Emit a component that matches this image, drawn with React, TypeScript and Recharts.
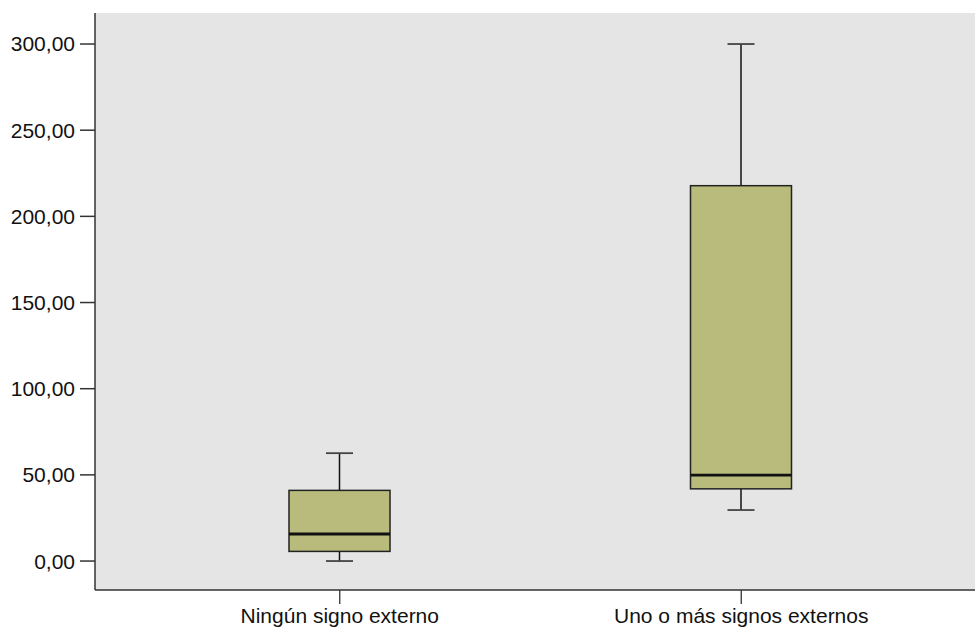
import React from 'react';
import { ComposedChart, Bar, XAxis, YAxis, CartesianGrid } from 'recharts';

const categories = ['Ningún signo externo', 'Uno o más signos externos'];
const minVals = [0, 29.6];
const q1Vals = [5.6, 41.9];
const medianVals = [15.7, 49.9];
const q3Vals = [41.0, 217.8];
const maxVals = [62.6, 300];
const yTicks = [0, 50, 100, 150, 200, 250, 300];

const data = categories.map((name, i) => ({
  name,
  min: minVals[i],
  q1: q1Vals[i],
  median: medianVals[i],
  q3: q3Vals[i],
  max: maxVals[i],
  range: [minVals[i], maxVals[i]],
}));

const FONT = 'Liberation Sans, Arial, Helvetica, sans-serif';

const BoxShape = (props: any) => {
  const { x, y, width, height, payload } = props;
  if (payload == null) return null;
  const { min, q1, median, q3, max } = payload;
  const span = max - min;
  const pix = (v: number) => y + ((max - v) / span) * height;
  const cx = x + width / 2;
  const capHalf = 13.5;
  return (
    <g>
      <line x1={cx} x2={cx} y1={pix(max)} y2={pix(q3)} stroke="#111" strokeWidth={1.5} />
      <line x1={cx} x2={cx} y1={pix(q1)} y2={pix(min)} stroke="#111" strokeWidth={1.5} />
      <line x1={cx - capHalf} x2={cx + capHalf} y1={pix(max)} y2={pix(max)} stroke="#444" strokeWidth={1.8} />
      <line x1={cx - capHalf} x2={cx + capHalf} y1={pix(min)} y2={pix(min)} stroke="#444" strokeWidth={1.8} />
      <rect x={x} y={pix(q3)} width={width} height={pix(q1) - pix(q3)} fill="#b8bb7b" stroke="#222" strokeWidth={1.5} />
      <line x1={x} x2={x + width} y1={pix(median)} y2={pix(median)} stroke="#111" strokeWidth={2.8} />
    </g>
  );
};

const fmt = (v: number) => v.toFixed(2).replace('.', ',');

export default function App() {
  return (
    <div style={{ position: 'absolute', left: 0, top: 0, width: 975, height: 628, background: '#fff' }}>
      <ComposedChart
        width={975}
        height={628}
        data={data}
        margin={{ top: 13, right: 0, bottom: 0, left: 0 }}
      >
        <CartesianGrid fill="#e5e5e5" horizontal={false} vertical={false} />
        <XAxis
          xAxisId="top"
          orientation="top"
          dataKey="name"
          height={0}
          tick={false}
          tickLine={false}
          axisLine={{ stroke: '#333', strokeWidth: 1.5 }}
          padding={{ left: 44, right: 33 }}
        />
        <XAxis
          dataKey="name"
          height={38}
          padding={{ left: 44, right: 33 }}
          tickSize={14}
          tickMargin={4}
          tickLine={{ stroke: '#333', strokeWidth: 1.3 }}
          axisLine={{ stroke: '#333', strokeWidth: 1.5 }}
          tick={{ fill: '#111', fontSize: 21, fontFamily: FONT }}
          interval={0}
        />
        <YAxis
          type="number"
          width={95}
          domain={[-16.8, 318]}
          ticks={yTicks}
          tickFormatter={fmt}
          allowDataOverflow
          tickSize={15}
          tickMargin={5}
          tickLine={{ stroke: '#333', strokeWidth: 1.5 }}
          axisLine={{ stroke: '#333', strokeWidth: 1.5 }}
          tick={{ fill: '#111', fontSize: 21, fontFamily: FONT }}
        />
        <Bar dataKey="range" barSize={101} shape={<BoxShape />} isAnimationActive={false} />
      </ComposedChart>
    </div>
  );
}
